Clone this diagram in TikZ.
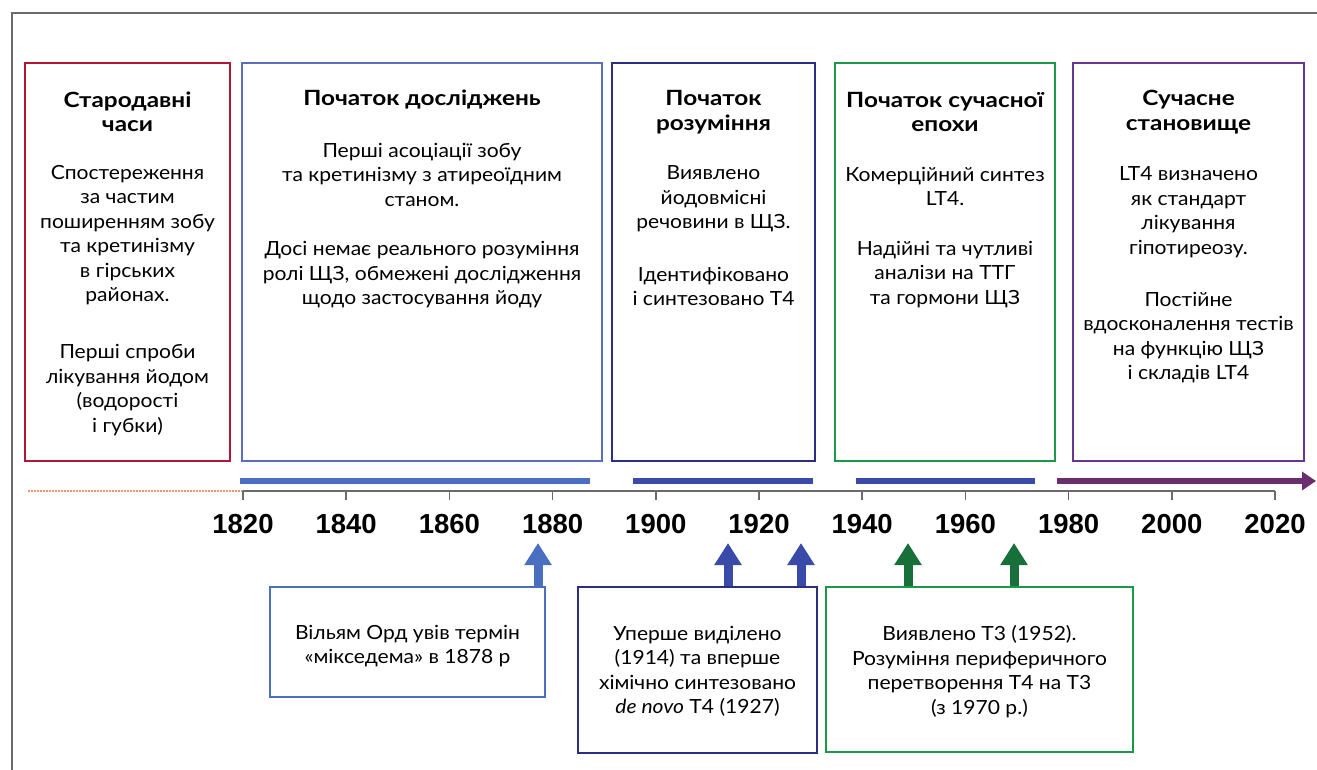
\documentclass[tikz,border=0pt]{standalone}
\usepackage{fontspec}
\setmainfont{Lato}[FakeStretch=1.08]
\newfontfamily\headfont[FakeStretch=1.16]{Lato}
\newfontfamily\yearfont{Liberation Sans}
\usetikzlibrary{arrows.meta,positioning,calc}
\definecolor{epred}{HTML}{B31536}
\definecolor{epblue}{HTML}{5A6FB8}
\definecolor{epnavy}{HTML}{2B2F80}
\definecolor{epgreen}{HTML}{1A9A48}
\definecolor{eppurple}{HTML}{6A3592}
\definecolor{barblue}{HTML}{4A6FC0}
\definecolor{barnavy}{HTML}{3A4AA8}
\definecolor{barplum}{HTML}{6B2D6E}
\definecolor{arrgreen}{HTML}{17703A}
\definecolor{axisgray}{HTML}{6B6B6B}
\definecolor{dotsalmon}{HTML}{EE9270}

\begin{document}
\begin{tikzpicture}[x=1pt,y=-1pt,font=\fontsize{19.5}{24.5}\selectfont,
  box/.style={draw,line width=2.2pt,inner sep=0pt,align=center},
  title/.style={font=\headfont\bfseries\fontsize{21}{24.5}\selectfont,align=center},
  txt/.style={align=center},
  evarrow/.style={line width=9pt,-{Triangle[width=26pt,length=22pt]}},
  bar/.style={line width=6pt}]
  \useasboundingbox (0,0) rectangle (1317,770);
  \draw[axisgray,line width=1.2pt] (12,770) -- (12,13) -- (1317,13);

  % top boxes
  \node[box,draw=epred,minimum width=205,minimum height=398] (ancient) at (127.5,262) {};
  \node[title] (ancientT) at (127.5,112) {Стародавні\\часи};
  \node[txt] (ancientA) at (127.5,235) {Спостереження\\за частим\\поширенням зобу\\та кретинізму\\в гірських\\районах.};
  \node[txt] (ancientB) at (127.5,390) {Перші спроби\\лікування йодом\\(водорості\\і губки)};

  \node[box,draw=epblue,minimum width=360,minimum height=398] (research) at (422,262) {};
  \node[title] (researchT) at (422,100) {Початок досліджень};
  \node[txt] (researchA) at (422,174.5) {Перші асоціації зобу\\та кретинізму з атиреоїдним\\станом.};
  \node[txt] (researchB) at (422,275) {Досі немає реального розуміння\\ролі ЩЗ, обмежені дослідження\\щодо застосування йоду};

  \node[box,draw=epnavy,minimum width=203,minimum height=398] (insight) at (713.5,262) {};
  \node[title] (insightT) at (713.5,112) {Початок\\розуміння};
  \node[txt] (insightA) at (713.5,199) {Виявлено\\йодовмісні\\речовини в ЩЗ.};
  \node[txt] (insightB) at (713.5,286.5) {Ідентифіковано\\і синтезовано Т4};

  \node[box,draw=epgreen,minimum width=220,minimum height=398] (modern) at (945,262) {};
  \node[title] (modernT) at (945,112) {Початок сучасної\\епохи};
  \node[txt] (modernA) at (945,186.5) {Комерційний синтез\\LT4.};
  \node[txt] (modernB) at (945,274.5) {Надійні та чутливі\\аналізи на ТТГ\\та гормони ЩЗ};

  \node[box,draw=eppurple,minimum width=231,minimum height=398] (today) at (1188.5,262) {};
  \node[title] (todayT) at (1188.5,112) {Сучасне\\становище};
  \node[txt] (todayA) at (1188.5,212) {LT4 визначено\\як стандарт\\лікування\\гіпотиреозу.};
  \node[txt] (todayB) at (1188.5,337.5) {Постійне\\вдосконалення тестів\\на функцію ЩЗ\\і складів LT4};

  % period bars
  \draw[bar,barblue] (240,481) -- (590,481);
  \draw[bar,barnavy] (633,481) -- (813,481);
  \draw[bar,barnavy] (856,481) -- (1035,481);
  \draw[bar,barplum,-{Triangle[width=18pt,length=14pt]}] (1057,481) -- (1316,481);

  % axis
  \draw[dotsalmon,line width=2.5pt,dash pattern=on 2pt off 1pt] (28,491) -- (243,491);
  \draw[axisgray,line width=1.5pt] (243,491) -- (1275,491);
  \foreach \i in {0,...,10}{
    \pgfmathtruncatemacro{\yr}{1820+20*\i}
    \draw[axisgray,line width=1.5pt] (243+103.2*\i,491) -- ++(0,9);
    \node[font=\yearfont\bfseries\fontsize{27.5}{27.5}\selectfont] (yr\i) at (243+103.2*\i,524) {\yr};
  }

  % events
  \node[box,draw=barblue,line width=1.6pt,minimum width=275,minimum height=110] (ord) at (407.5,642) {};
  \node[txt] (ordT) at (407.5,646) {Вільям Орд увів термін\\«мікседема» в 1878 р};
  \node[box,draw=epnavy,line width=1.6pt,minimum width=239,minimum height=166] (thyrox) at (697.5,670) {};
  \node[txt] (thyroxT) at (697.5,671.5) {Уперше виділено\\(1914) та вперше\\хімічно синтезовано\\\textit{de novo} Т4 (1927)};
  \node[box,draw=epgreen,line width=1.6pt,minimum width=307,minimum height=165] (trio) at (979.5,669.5) {};
  \node[txt] (trioT) at (979.5,671.5) {Виявлено Т3 (1952).\\Розуміння периферичного\\перетворення Т4 на Т3\\(з 1970 р.)};

  \coordinate (a1878) at (538,543);
  \coordinate (a1914) at (728,543);
  \coordinate (a1927) at (801,543);
  \coordinate (a1952) at (908,543);
  \coordinate (a1970) at (1014,543);
  \draw[evarrow,barblue] (ord.north -| a1878) -- (a1878);
  \draw[evarrow,barnavy] (thyrox.north -| a1914) -- (a1914);
  \draw[evarrow,barnavy] (thyrox.north -| a1927) -- (a1927);
  \draw[evarrow,arrgreen] (trio.north -| a1952) -- (a1952);
  \draw[evarrow,arrgreen] (trio.north -| a1970) -- (a1970);
\end{tikzpicture}
\end{document}
